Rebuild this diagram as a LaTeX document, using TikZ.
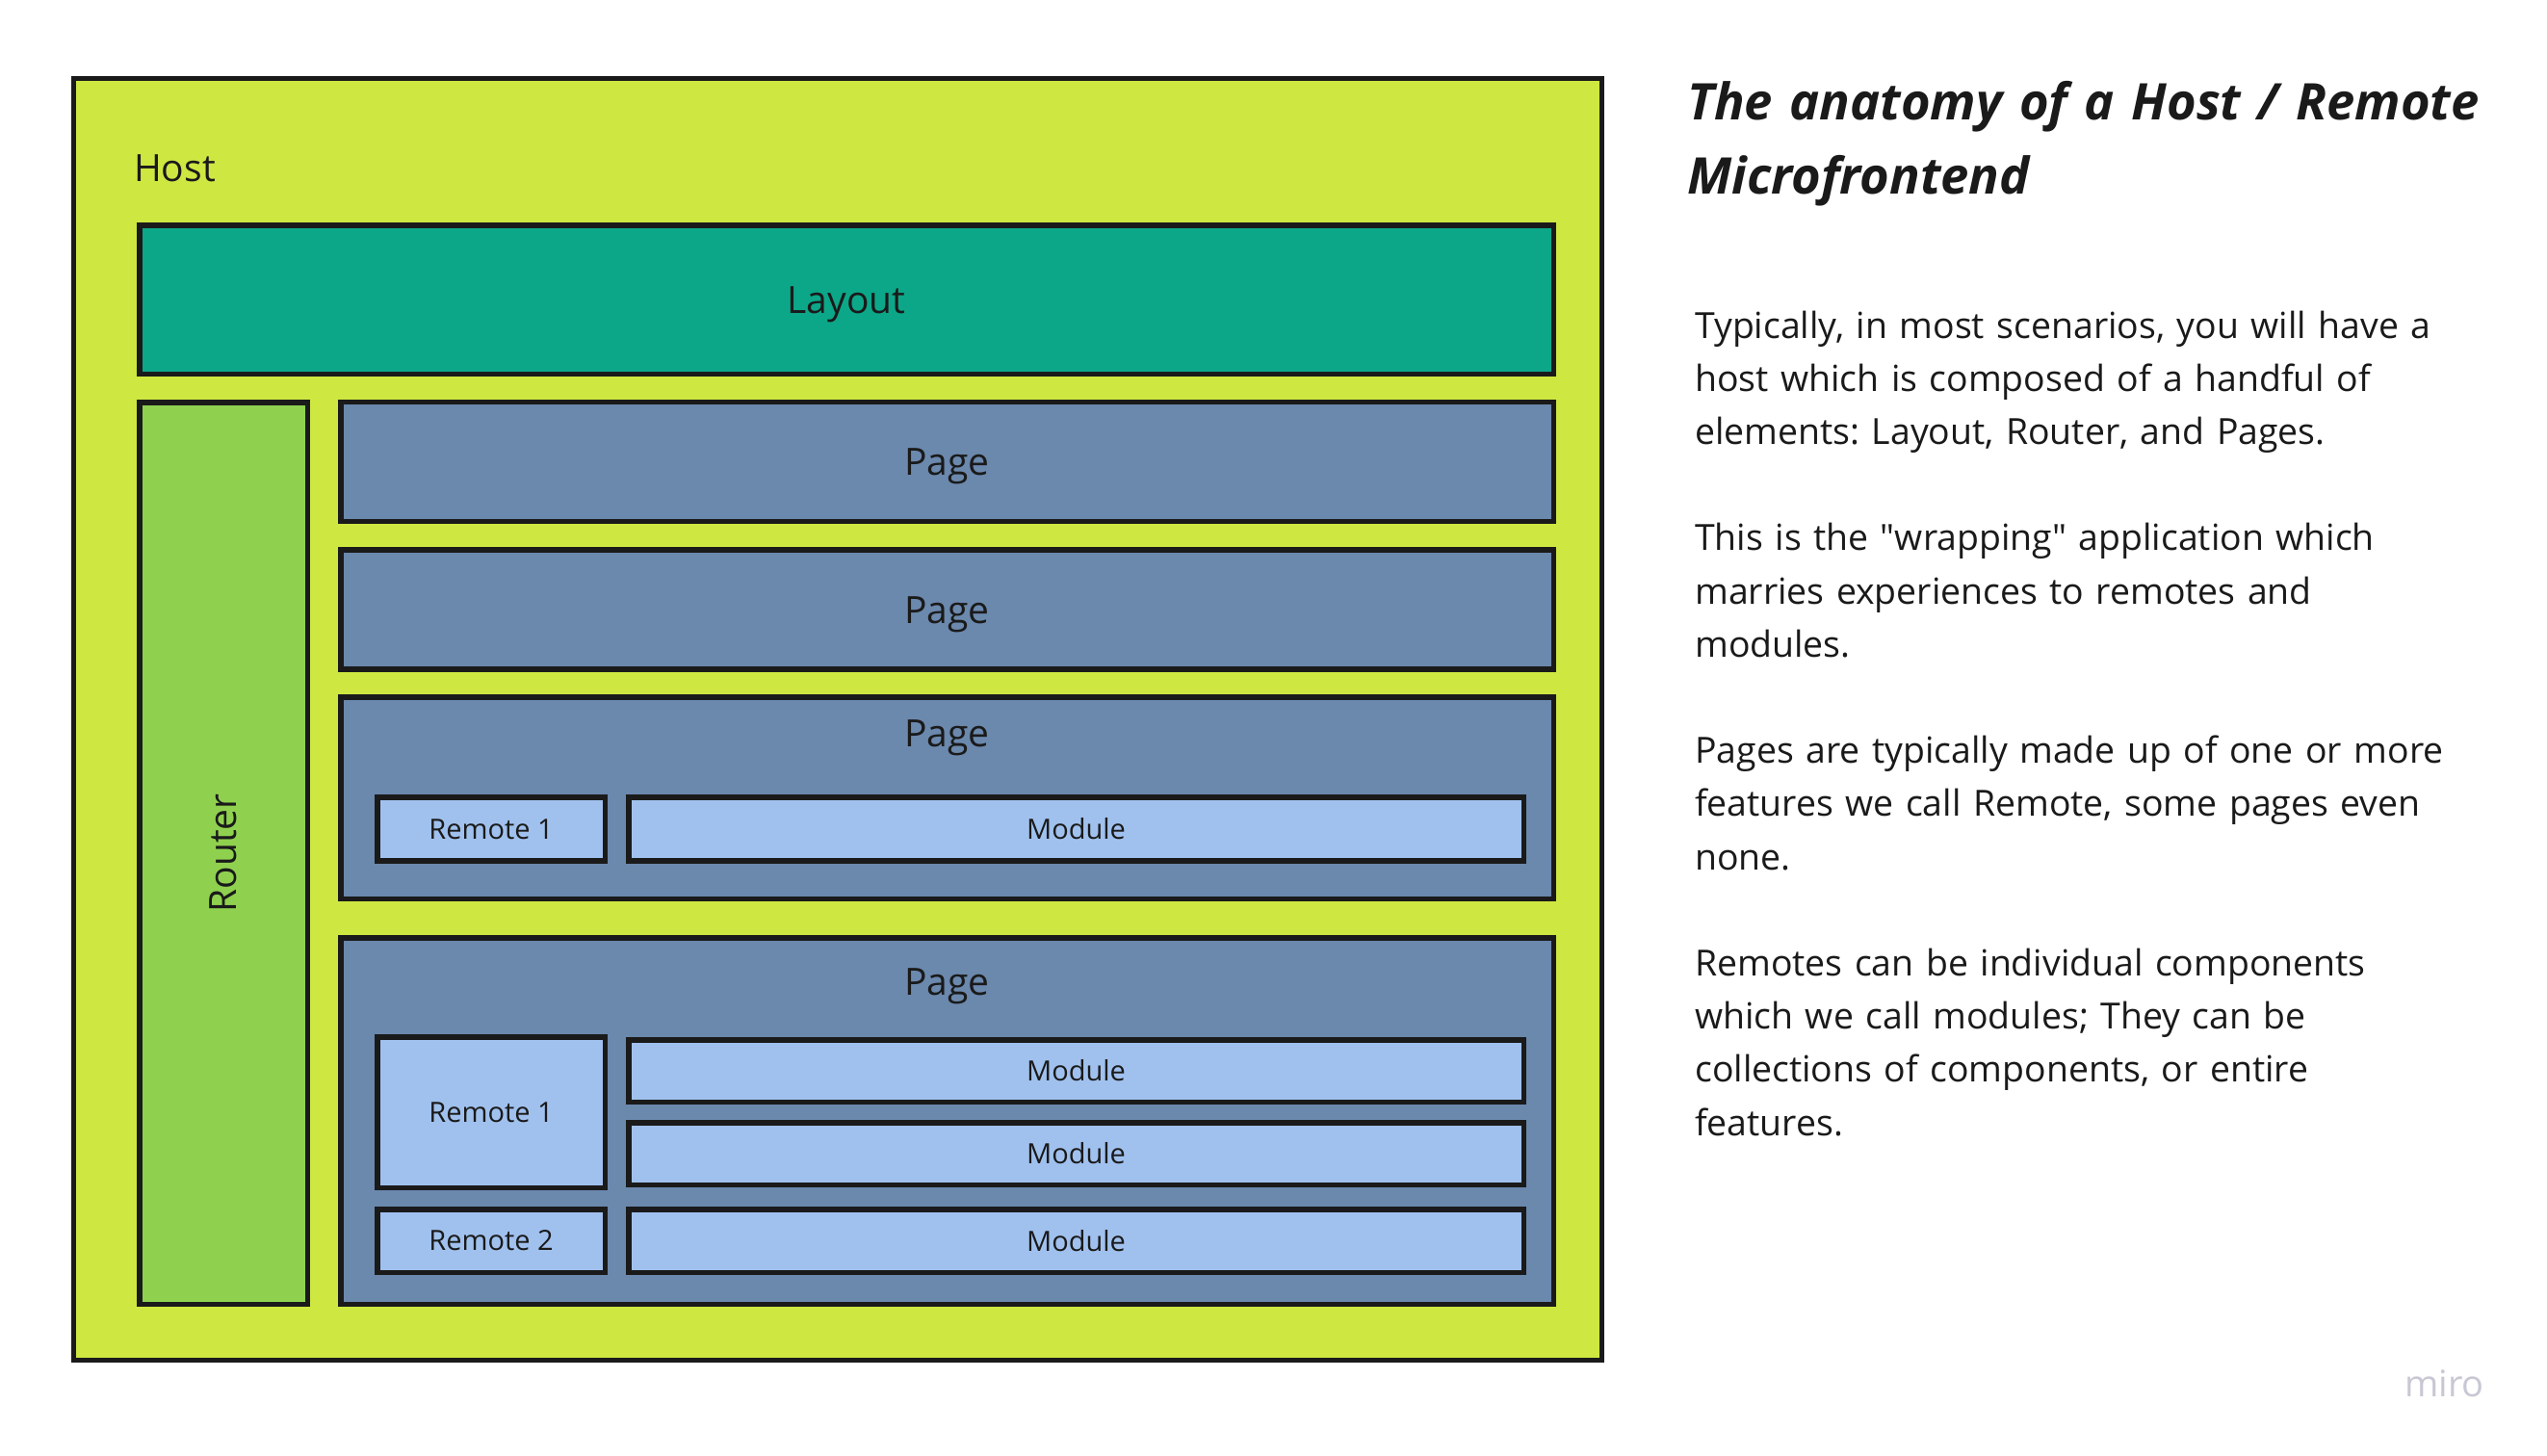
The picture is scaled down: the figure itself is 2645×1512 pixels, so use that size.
\documentclass[tikz,border=0pt]{standalone}
\usepackage{fontspec}
\newfontfamily\osans{Open Sans}
\setmainfont{Open Sans}
\newcommand\myfs[2]{\osans\fontsize{#1}{#2}\selectfont\frenchspacing}
\definecolor{strokec}{HTML}{1A1A1A}
\definecolor{textc}{HTML}{1A1A1A}
\definecolor{hostc}{HTML}{CFE741}
\definecolor{layoutc}{HTML}{0CA789}
\definecolor{routerc}{HTML}{8FD14F}
\definecolor{pagec}{HTML}{6B88AD}
\definecolor{modc}{HTML}{A0C1EE}
\definecolor{miroc}{HTML}{C8C8D4}
\begin{document}
\begin{tikzpicture}[x=1pt,y=-1pt,
  box/.style={draw=strokec, line width=5.5pt, rectangle, inner sep=0pt, outer sep=0pt, text=textc},
  hostbox/.style={box, line width=5pt, fill=hostc},
  layoutbox/.style={box, fill=layoutc, font=\myfs{39}{47}, text height=38pt, text depth=9.4pt},
  routerbox/.style={box, fill=routerc},
  pagebox/.style={box, fill=pagec, font=\myfs{39}{47}, text height=38pt, text depth=9.4pt},
  modbox/.style={box, fill=modc, font=\myfs{29}{35}},
  biglabel/.style={inner sep=0pt, text=textc, font=\myfs{39}{47}},
  bodytext/.style={inner sep=0pt, text=textc, align=left, text width=880pt, font=\myfs{37.4}{55.2}},
  titletext/.style={inner sep=0pt, text=textc, align=left, text width=900pt, font=\myfs{52.5}{77.7}\bfseries\itshape}
]
\fill[white] (0,0) rectangle (2645,1512);
\useasboundingbox (0,0) rectangle (2645,1512);

% Host
\node[hostbox, minimum width=1587pt, minimum height=1331pt] (host) at (870,747) {};
\node[biglabel, anchor=base west] (hostlabel) at (139,188) {Host};

% Layout
\node[layoutbox, minimum width=1468.5pt, minimum height=154.5pt] (layout) at (879,311) {Layout};

% Router
\node[routerbox, minimum width=174.5pt, minimum height=936.5pt] (router) at (232,886) {};
\node[biglabel, rotate=90] (routerlabel) at (router.center) {Router};

% Pages
\node[pagebox, minimum width=1259.5pt, minimum height=124pt] (page1) at (983.5,479.5) {Page};
\node[pagebox, minimum width=1259.5pt, minimum height=124pt] (page2) at (983.5,633) {Page};
\node[pagebox, minimum width=1259.5pt, minimum height=209.5pt] (page3) at (983.5,828.5) {};
\node[biglabel, anchor=base] (page3label) at (983.5,775.5) {Page};
\node[pagebox, minimum width=1259.5pt, minimum height=380.5pt] (page4) at (983.5,1164) {};
\node[biglabel, anchor=base] (page4label) at (983.5,1033.5) {Page};

% Page 3 contents
\node[modbox, minimum width=236.5pt, minimum height=66pt] (p3r1) at (510,861) {Remote 1};
\node[modbox, minimum width=929.5pt, minimum height=66pt] (p3m1) at (1117.5,861) {Module};

% Page 4 contents
\node[modbox, minimum width=236.5pt, minimum height=156.5pt] (p4r1) at (510,1155) {Remote 1};
\node[modbox, minimum width=929.5pt, minimum height=64.5pt] (p4m1) at (1117.5,1112) {Module};
\node[modbox, minimum width=929.5pt, minimum height=64.5pt] (p4m2) at (1117.5,1198) {Module};
\node[modbox, minimum width=236.5pt, minimum height=65.5pt] (p4r2) at (510,1288.5) {Remote 2};
\node[modbox, minimum width=929.5pt, minimum height=65.5pt] (p4m3) at (1117.5,1288.5) {Module};

% Right text
\node[titletext, anchor=base west] (title) at (1752,124) {The anatomy of a Host / Remote\\Microfrontend};
\node[bodytext, anchor=base west] (body) at (1760,351) {Typically, in most scenarios, you will have a\\
host which is composed of a handful of\\
elements: Layout, Router, and Pages.\\[55.2pt]
This is the "wrapping" application which\\
marries experiences to remotes and\\
modules.\\[55.2pt]
Pages are typically made up of one or more\\
features we call Remote, some pages even\\
none.\\[55.2pt]
Remotes can be individual components\\
which we call modules; They can be\\
collections of components, or entire\\
features.};

% Watermark
\node[inner sep=0pt, anchor=base west, text=miroc, font=\myfs{38}{45}] (miro) at (2497,1450) {miro};
\end{tikzpicture}
\end{document}
